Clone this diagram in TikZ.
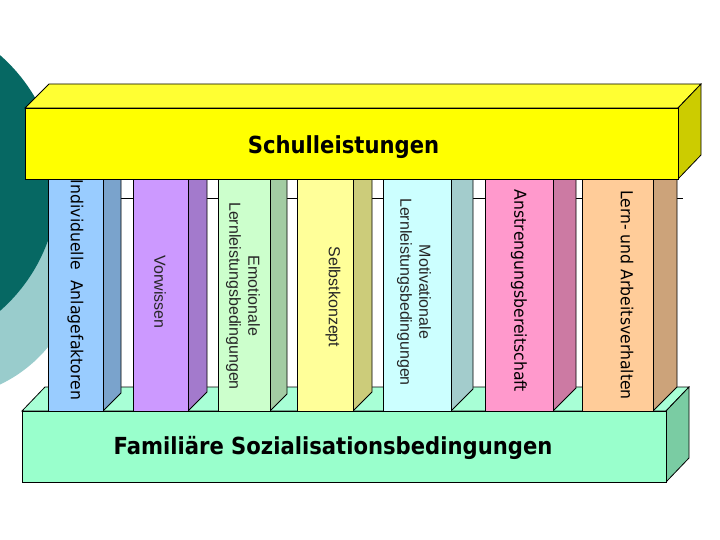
\documentclass[tikz,border=0pt]{standalone}
\usepackage{fontspec}
\setmainfont{Liberation Sans}
\newfontfamily\titlefam{DejaVu Sans}[FakeStretch=0.9]
\newfontfamily\boldfam{DejaVu Sans}[FakeStretch=0.95]
\newfontfamily\thinfam{Liberation Sans}
\definecolor{tealdark}{HTML}{066863}
\definecolor{teallight}{HTML}{99CCCC}
\definecolor{topfront}{HTML}{FFFF00}
\definecolor{toptop}{HTML}{FFFF33}
\definecolor{topside}{HTML}{CCCC00}
\definecolor{basefront}{HTML}{99FFCC}
\definecolor{basetop}{HTML}{A8FFD6}
\definecolor{baseside}{HTML}{7ACCA3}
\definecolor{pAf}{HTML}{99CCFF}\definecolor{pAs}{HTML}{7AA3CC}
\definecolor{pBf}{HTML}{CC99FF}\definecolor{pBs}{HTML}{A37ACC}
\definecolor{pCf}{HTML}{CCFFCC}\definecolor{pCs}{HTML}{A3CCA3}
\definecolor{pDf}{HTML}{FFFF99}\definecolor{pDs}{HTML}{CCCC7A}
\definecolor{pEf}{HTML}{CCFFFF}\definecolor{pEs}{HTML}{A3CCCC}
\definecolor{pFf}{HTML}{FF99CC}\definecolor{pFs}{HTML}{CC7AA3}
\definecolor{pGf}{HTML}{FFCC99}\definecolor{pGs}{HTML}{CCA37A}
\tikzset{
  face/.style={draw=black, line width=0.8pt, line join=miter},
  titletext/.style={font=\titlefam\bfseries\fontsize{23.5}{26}\selectfont, inner sep=0pt, text=black},
  boldpillar/.style={font=\boldfam\fontsize{16.5}{19}\selectfont, rotate=-90, inner sep=0pt, text=black},
  thinpillar/.style={font=\thinfam\fontsize{16}{19}\selectfont, rotate=-90, inner sep=0pt, align=center, text=black!85},
}
\begin{document}
\begin{tikzpicture}[x=1pt,y=-1pt]
\useasboundingbox (0,0) rectangle (720,540);
\clip (0,0) rectangle (720,540);
% background circles
\fill[teallight] (-60,258) circle[radius=140pt];
\fill[tealdark] (-112,183) circle[radius=170pt];
% back wall
\fill[white] (100,198) rectangle (690,400);
\draw[line width=0.8pt] (121,198) -- (683,198);
% base box
\path[face, fill=basetop] (22,411) -- (45,387) -- (689,387) -- (666,411) -- cycle;
\path[face, fill=baseside] (666,411) -- (689,387) -- (689,458) -- (666,482) -- cycle;
\path[face, fill=basefront] (22,411) rectangle (666,482);
% pillars
\foreach \L/\R/\d/\cf/\cs in {48/103/18/pAf/pAs, 133/188/19/pBf/pBs, 218/270/17/pCf/pCs,
  297/353/19/pDf/pDs, 383/451/22/pEf/pEs, 485/553/23/pFf/pFs, 582/653/24/pGf/pGs}{
  \path[face, fill=\cs] (\R,170) -- (\R+\d,170) -- (\R+\d,411-\d) -- (\R,411) -- cycle;
  \path[face, fill=\cf] (\L,170) rectangle (\R,411);
}
% top box
\path[face, fill=toptop] (25,108) -- (49,84) -- (701,84) -- (678,108) -- cycle;
\path[face, fill=topside] (678,108) -- (701,84) -- (701,155) -- (678,179) -- cycle;
\path[face, fill=topfront] (25,108) rectangle (678,179);
% texts
\node[titletext] (schul) at (343.5,147) {Schulleistungen};
\node[titletext] (fam) at (333,448) {Familiäre Sozialisationsbedingungen};
\node[boldpillar] (t1) at (75.5,290) {Individuelle\ \ Anlagefaktoren};
\node[thinpillar] (t2) at (160,292) {Vorwissen};
\node[thinpillar] (t3) at (243,296) {Emotionale\\Lernleistungsbedingungen};
\node[thinpillar] (t4) at (333,297) {Selbstkonzept};
\node[thinpillar] (t5) at (414,292) {Motivationale\\Lernleistungsbedingungen};
\node[boldpillar] (t6) at (519,291) {Anstrengungsbereitschaft};
\node[boldpillar] (t7) at (627,295) {Lern- und Arbeitsverhalten};
\end{tikzpicture}
\end{document}
